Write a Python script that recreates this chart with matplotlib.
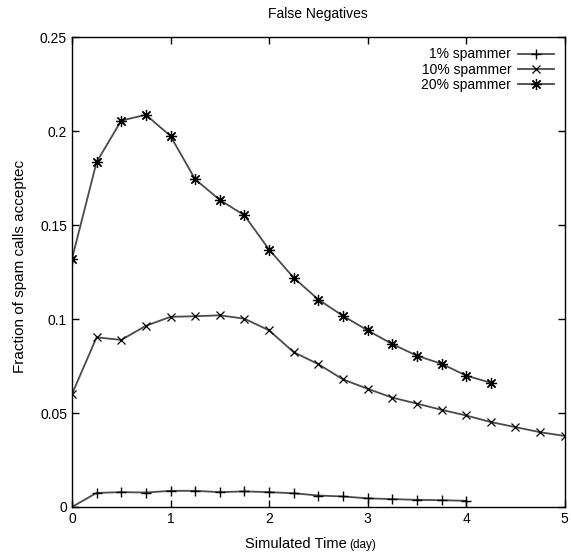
import matplotlib
matplotlib.use("Agg")
import matplotlib.pyplot as plt
from matplotlib.ticker import FuncFormatter

plt.rcParams['font.family'] = ['Liberation Sans Narrow', 'Liberation Sans', 'DejaVu Sans']

x1 = [0, 0.25, 0.5, 0.75, 1.0, 1.25, 1.5, 1.75, 2.0, 2.25, 2.5, 2.75, 3.0, 3.25, 3.5, 3.75, 4.0]
y1 = [0.0, 0.0075, 0.0079, 0.0077, 0.0086, 0.0086, 0.0079, 0.0083, 0.0079, 0.0073,
      0.0061, 0.0056, 0.0046, 0.0042, 0.0038, 0.0036, 0.0033]

x10 = [0, 0.25, 0.5, 0.75, 1.0, 1.25, 1.5, 1.75, 2.0, 2.25, 2.5, 2.75, 3.0, 3.25, 3.5,
       3.75, 4.0, 4.25, 4.5, 4.75, 5.0]
y10 = [0.060, 0.0903, 0.0889, 0.0964, 0.1012, 0.1015, 0.102, 0.1002, 0.094, 0.0824,
       0.076, 0.0679, 0.0629, 0.0582, 0.055, 0.0517, 0.0487, 0.0452, 0.0425, 0.0398, 0.0378]

x20 = [0, 0.25, 0.5, 0.75, 1.0, 1.25, 1.5, 1.75, 2.0, 2.25, 2.5, 2.75, 3.0, 3.25, 3.5,
       3.75, 4.0, 4.25]
y20 = [0.132, 0.1835, 0.2056, 0.2087, 0.1974, 0.1744, 0.1634, 0.1552, 0.137, 0.122,
       0.1104, 0.1017, 0.094, 0.0867, 0.0805, 0.0762, 0.0699, 0.0661]

labels = ['1% spammer', '10% spammer', '20% spammer']
xticks = [0, 1, 2, 3, 4, 5]
yticks = [0, 0.05, 0.1, 0.15, 0.2, 0.25]

fig = plt.figure(figsize=(5.71, 5.55), dpi=100)
ax = fig.add_axes([0.126, 0.0865, 0.863, 0.8465])

lc = '#4a4a4a'
ax.plot(x1, y1, color=lc, lw=1.3, marker='+', ms=7, mec='black', mew=1.0, label=labels[0])
ax.plot(x10, y10, color=lc, lw=1.3, marker='x', ms=6, mec='black', mew=0.9, label=labels[1])
ax.plot(x20, y20, color=lc, lw=1.3, marker=(8, 2, 0), ms=8, mec='black', mew=0.9, label=labels[2])

ax.set_xlim(0, 5)
ax.set_ylim(0, 0.25)
ax.set_xticks(xticks)
ax.set_yticks(yticks)
ax.yaxis.set_major_formatter(FuncFormatter(lambda v, p: '%g' % v))
ax.tick_params(direction='in', top=True, right=True, length=5, width=1, labelsize=10)
for s in ax.spines.values():
    s.set_linewidth(1.0)

ax.set_title('False Negatives', fontsize=10, pad=14)
ax.set_ylabel('Fraction of spam calls acceptec', fontsize=11)
ax.yaxis.set_label_coords(-0.092, 0.513)

# x label: main part plus smaller "(day)"
fig.text(0.607, 0.008, 'Simulated Time', fontsize=10.5, ha='right', va='bottom')
fig.text(0.611, 0.008, '(day)', fontsize=8.5, ha='left', va='bottom')

leg = ax.legend(loc='upper right', markerfirst=False, frameon=False, fontsize=10,
                handlelength=2.6, labelspacing=0.1, borderaxespad=0.0, handletextpad=0.5,
                bbox_to_anchor=(0.99, 0.99))
for t in leg.get_texts():
    t.set_ha('right')

fig.savefig('out.png', dpi=100)
